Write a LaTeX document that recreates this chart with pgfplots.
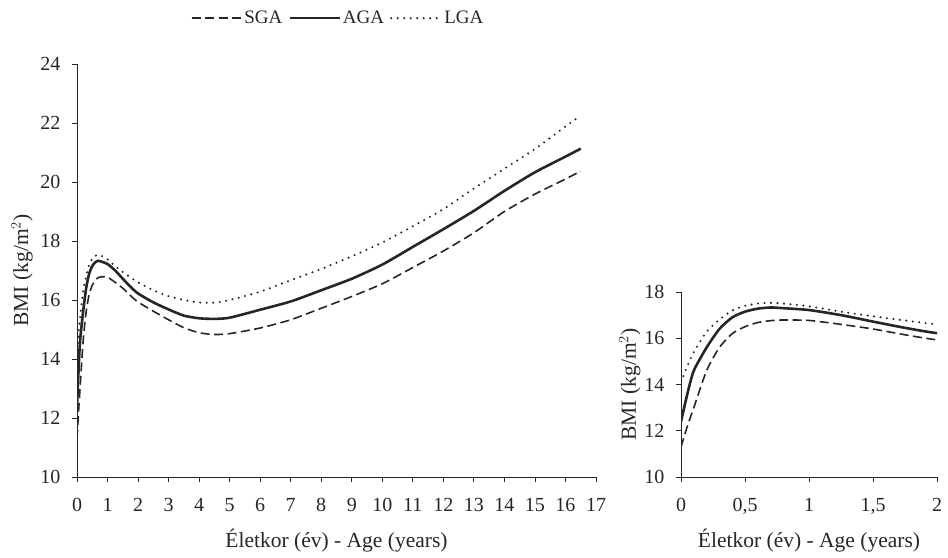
\documentclass[border=0pt]{standalone}
\usepackage{fontspec}
\setmainfont{Liberation Serif}
\usepackage{pgfplots}
\pgfplotsset{compat=1.18}
\usepackage{pgfplotstable}

\pgfplotstableread{
x y
0 11.3
0.05 12.2
0.1 13.0
0.2 14.6
0.3 15.6
0.4 16.2
0.5 16.5
0.6 16.68
0.7 16.76
0.8 16.79
1.0 16.77
1.25 16.6
1.5 16.4
1.75 16.15
2 15.93
2.5 15.62
3 15.33
3.5 15.06
4 14.89
4.5 14.83
5 14.86
6 15.05
7 15.33
8 15.72
9 16.12
10 16.55
11 17.1
12 17.66
13 18.28
14 19.0
15 19.59
16 20.1
16.5 20.37
}\sga

\pgfplotstableread{
x y
0 12.4
0.05 13.6
0.1 14.6
0.2 15.6
0.3 16.4
0.4 16.9
0.5 17.15
0.6 17.28
0.7 17.33
0.8 17.3
1.0 17.22
1.25 17.0
1.5 16.72
1.75 16.45
2 16.22
2.5 15.92
3 15.68
3.5 15.47
4 15.38
4.5 15.36
5 15.4
6 15.67
7 15.95
8 16.33
9 16.72
10 17.2
11 17.8
12 18.4
13 19.02
14 19.7
15 20.33
16 20.86
16.5 21.13
}\aga

\pgfplotstableread{
x y
0 14.1
0.05 14.8
0.1 15.4
0.2 16.28
0.3 16.8
0.4 17.2
0.5 17.4
0.6 17.5
0.7 17.53
0.8 17.5
1.0 17.38
1.25 17.15
1.5 16.95
1.75 16.77
2 16.6
2.5 16.33
3 16.13
3.5 16.0
4 15.92
4.5 15.91
5 16.0
6 16.28
7 16.67
8 17.05
9 17.48
10 17.95
11 18.5
12 19.08
13 19.78
14 20.45
15 21.12
16 21.88
16.5 22.26
}\lga

\definecolor{ink}{gray}{0.15}

\pgfplotsset{
  mybase/.style={
    scale only axis,
    axis lines*=left,
    tick align=outside,
    major tick length=5bp,
    every tick/.style={ink, line width=0.8bp},
    axis line style={ink, line width=0.8bp},
    /pgf/number format/assume math mode=true,
    ticklabel style={ink, font=\fontsize{20bp}{23bp}\selectfont},
    xticklabel style={yshift=-13bp},
    yticklabel style={xshift=-8bp},
    label style={ink, font=\fontsize{21.5bp}{25bp}\selectfont},
    xlabel={Életkor (év) - Age (years)},
    ylabel={BMI (kg/m$^{2}$)},
    clip=true,
  },
  sgastyle/.style={ink, line width=1.6bp, dash pattern=on 9bp off 4.5bp},
  agastyle/.style={ink, line width=2.6bp},
  lgastyle/.style={ink, line width=2.3bp, line cap=round, dash pattern=on 0bp off 6.5bp},
}

\begin{document}
\begin{tikzpicture}
\path[use as bounding box] (0,0) rectangle (948bp,558bp);

\begin{axis}[
  mybase,
  at={(77bp,81bp)}, anchor=south west,
  width=519bp, height=413bp,
  xmin=0, xmax=17, ymin=10, ymax=24,
  xtick={0,1,...,17},
  ytick={10,12,...,24},
  xlabel style={at={(axis description cs:0.5,-0.155)}, anchor=center},
  ylabel style={at={(axis description cs:-0.106,0.5)}, anchor=center},
  legend columns=3,
  legend style={at={(0.503,1.111)}, anchor=center, draw=none, fill=none,
    font=\fontsize{19bp}{22bp}\selectfont, text=ink,
    /tikz/every even column/.append style={column sep=4bp}},
  legend image code/.code={\draw[#1] (0bp,0bp) -- (50bp,0bp);},
]
\addplot[sgastyle, smooth, tension=0.4] table {\sga};
\addlegendentry{SGA}
\addplot[agastyle, smooth, tension=0.4] table {\aga};
\addlegendentry{AGA}
\addplot[lgastyle, smooth, tension=0.4] table {\lga};
\addlegendentry{LGA}
\end{axis}

\begin{axis}[
  mybase,
  at={(681bp,81bp)}, anchor=south west,
  width=256bp, height=185bp,
  xmin=0, xmax=2, ymin=10, ymax=18,
  xtick={0,0.5,1,1.5,2},
  xticklabels={0,{0,5},1,{1,5},2},
  ytick={10,12,...,18},
  xlabel style={at={(axis description cs:0.5,-0.346)}, anchor=center},
  ylabel style={at={(axis description cs:-0.200,0.5)}, anchor=center},
]
\addplot[sgastyle, smooth, tension=0.4] table {\sga};
\addplot[agastyle, smooth, tension=0.4] table {\aga};
\addplot[lgastyle, smooth, tension=0.4] table {\lga};
\end{axis}
\end{tikzpicture}
\end{document}
